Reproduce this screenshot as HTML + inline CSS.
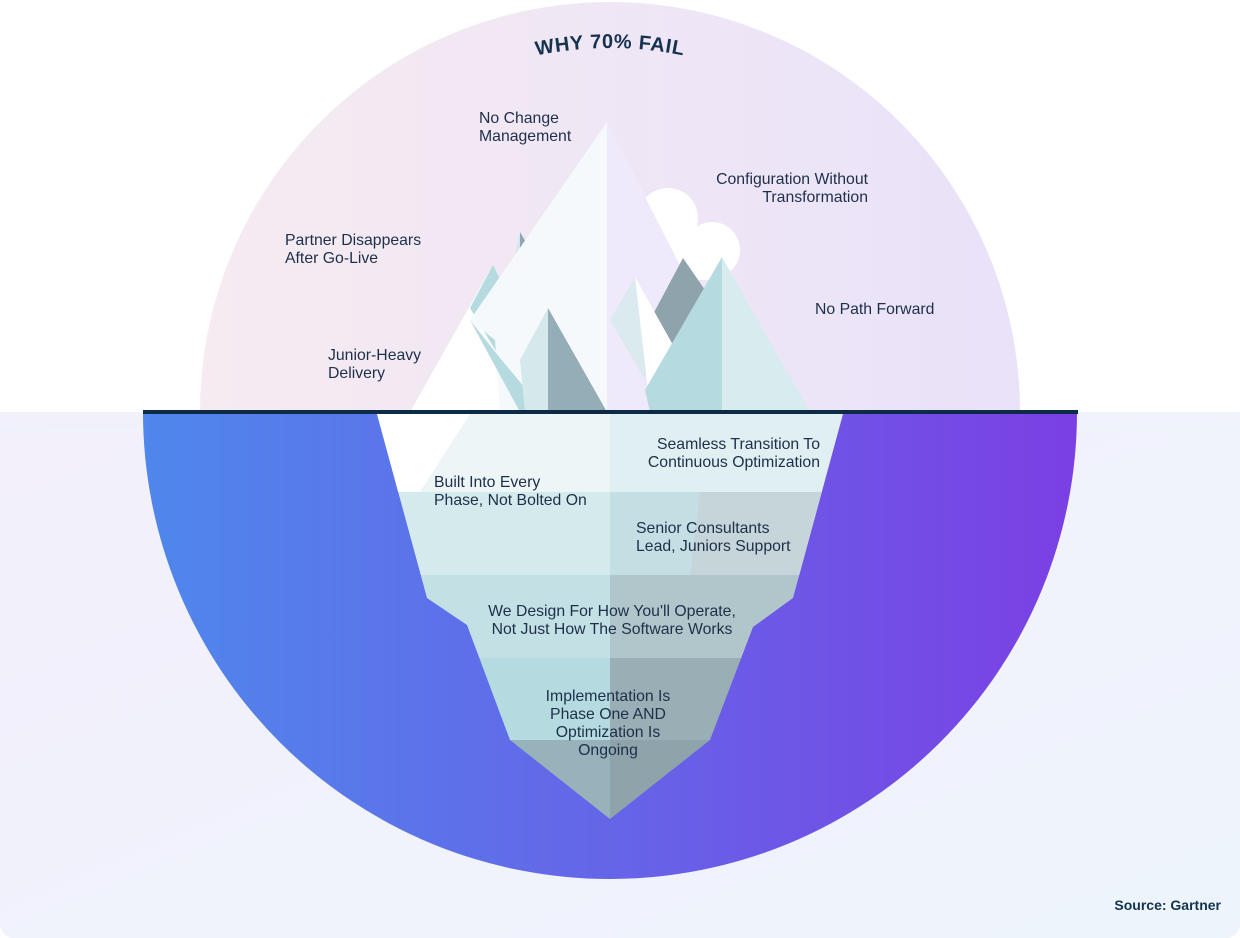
<!DOCTYPE html>
<html><head><meta charset="utf-8"><style>
html,body{margin:0;padding:0;background:#fff;}
svg{display:block}
text{font-family:"Liberation Sans",sans-serif;}
</style></head><body>
<svg width="1240" height="938" viewBox="0 0 1240 938" xmlns="http://www.w3.org/2000/svg">
<defs>
<linearGradient id="top" x1="0" x2="1" y1="0" y2="0"><stop offset="0" stop-color="#f6ebf1"/><stop offset="1" stop-color="#e9e2f9"/></linearGradient>
<linearGradient id="bot" x1="0" x2="1" y1="0" y2="0"><stop offset="0" stop-color="#4f87ec"/><stop offset="0.5" stop-color="#6565e8"/><stop offset="1" stop-color="#7b3fe4"/></linearGradient>
<linearGradient id="bg" x1="0" x2="1" y1="0" y2="1"><stop offset="0" stop-color="#f3effb"/><stop offset="1" stop-color="#eef4fc"/></linearGradient>
<clipPath id="ice"><polygon points="377,414 843,414 793,598 753,627 710,740 610,819 510,740 467,625 427,598"/></clipPath>
</defs>
<rect x="0" y="412" width="1240" height="526" rx="14" fill="url(#bg)"/>
<rect x="0" y="412" width="1240" height="20" fill="url(#bg)"/>
<path d="M200,412 A410,410 0 0 1 1020,412 Z" fill="url(#top)"/>
<path d="M143,412 A467,467 0 0 0 1077,412 Z" fill="url(#bot)"/>
<path id="arc" d="M246,412 A364,364 0 0 1 974,412" fill="none"/>
<text font-size="20" font-weight="bold" fill="#15324f" letter-spacing="0.6"><textPath href="#arc" startOffset="50%" text-anchor="middle">WHY 70% FAIL</textPath></text>

<circle cx="668" cy="218" r="30" fill="#fff"/>
<circle cx="712" cy="250" r="28" fill="#fff"/>
<rect x="650" y="230" width="80" height="50" fill="#fff"/>
<polygon points="520,232 540,265 505,300" fill="#d6e8ec"/>
<polygon points="520,232 545,275 520,300" fill="#8ea9b2"/>
<polygon points="493,265 410,412 520,412" fill="#fff"/>
<polygon points="493,265 470,308 500,358 550,412 580,412 510,300" fill="#b5dbe0"/>
<polygon points="607,122 607,412 500,412 495,340 470,320" fill="#f5f9fc"/>
<polygon points="607,122 607,412 740,412 720,360 690,285" fill="#efeafb"/>
<polygon points="470,320 500,358 545,412 520,412" fill="#b5dbe0"/>
<polygon points="548,308 520,360 525,412 548,412" fill="#d5e9ec"/>
<polygon points="548,308 548,412 607,412" fill="#94adb6"/>
<polygon points="683,258 650,320 673,345 705,290" fill="#8fa3ac"/>
<polygon points="635,277 610,320 645,380 648,350" fill="#dbeaee"/>
<polygon points="635,277 648,390 673,345" fill="#fff"/>
<polygon points="722,257 645,390 650,412 722,412" fill="#b5dbe0"/>
<polygon points="722,257 722,412 810,412" fill="#d8ecef"/>

<g clip-path="url(#ice)">
<rect x="370" y="414" width="240" height="78" fill="#edf5f6"/>
<rect x="610" y="414" width="240" height="78" fill="#e0f0f2"/>
<polygon points="376,414 470,414 420,492 376,492" fill="#fff"/>
<rect x="370" y="492" width="240" height="83" fill="#d5eaed"/>
<rect x="610" y="492" width="240" height="83" fill="#c4dfe4"/>
<polygon points="700,492 850,492 850,575 690,575" fill="#c6d5da"/>
<rect x="370" y="575" width="240" height="83" fill="#c3e0e5"/>
<rect x="610" y="575" width="240" height="83" fill="#b1c6cb"/>
<rect x="370" y="658" width="240" height="82" fill="#b5dbe0"/>
<rect x="610" y="658" width="240" height="82" fill="#99aeb5"/>
<rect x="370" y="740" width="240" height="90" fill="#97b2ba"/>
<rect x="610" y="740" width="240" height="90" fill="#8fa3ab"/>
</g>
<rect x="143" y="410" width="935" height="4" fill="#0d2b45"/>

<g font-size="15.8" fill="#1e2f4a">
<text x="479" y="123">No Change</text><text x="479" y="141">Management</text>
<text x="868" y="184" text-anchor="end">Configuration Without</text><text x="868" y="202" text-anchor="end">Transformation</text>
<text x="285" y="245">Partner Disappears</text><text x="285" y="263">After Go-Live</text>
<text x="815" y="314">No Path Forward</text>
<text x="328" y="360">Junior-Heavy</text><text x="328" y="378">Delivery</text>
<text x="820" y="449" text-anchor="end">Seamless Transition To</text><text x="820" y="467" text-anchor="end">Continuous Optimization</text>
<text x="434" y="487">Built Into Every</text><text x="434" y="505">Phase, Not Bolted On</text>
<text x="636" y="533">Senior Consultants</text><text x="636" y="551">Lead, Juniors Support</text>
<text x="612" y="616" text-anchor="middle">We Design For How You'll Operate,</text><text x="612" y="634" text-anchor="middle">Not Just How The Software Works</text>
<text x="608" y="701" text-anchor="middle">Implementation Is</text><text x="608" y="719" text-anchor="middle">Phase One AND</text><text x="608" y="737" text-anchor="middle">Optimization Is</text><text x="608" y="755" text-anchor="middle">Ongoing</text>
</g>
<text x="1221" y="910" text-anchor="end" font-size="14" font-weight="bold" fill="#15324f">Source: Gartner</text>
</svg>
</body></html>
